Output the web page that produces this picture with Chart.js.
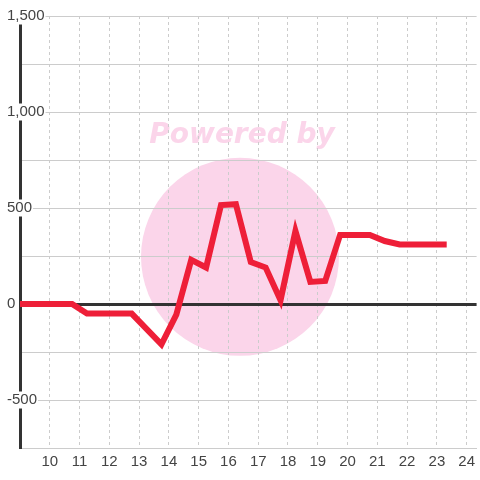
<!DOCTYPE html>
<html><head><meta charset="utf-8">
<script src="https://cdn.jsdelivr.net/npm/chart.js@4/dist/chart.umd.min.js"></script>
<style>html,body{margin:0;padding:0;background:#fff}</style>
</head><body>
<canvas id="c" width="480" height="480"></canvas>
<script>
// Data
const hours  = [8.75, 10.75, 11.25, 12.75, 13.75, 14.25, 14.75, 15.25, 15.75, 16.25, 16.75, 17.25, 17.75, 18.25, 18.75, 19.25, 19.75, 20.75, 21.25, 21.75, 23.33];
const values = [0,    0,     -50,   -50,   -210,  -55,   230,   190,   515,   520,   219,   190,   20,    380,   115,   120,   360,   360,   328,   310,   310];
const xTickLabels = [10, 11, 12, 13, 14, 15, 16, 17, 18, 19, 20, 21, 22, 23, 24];
const yTickLabels = [-500, 0, 500, 1000, 1500];
const watermarkText = 'Powered by';

const watermark = {
  id: 'watermark',
  beforeDraw(chart) {
    const ctx = chart.ctx;
    ctx.save();
    ctx.fillStyle = '#ffffff';
    ctx.fillRect(0, 0, chart.width, chart.height);
    const cx = chart.width / 2, cy = chart.height * 0.535;
    ctx.fillStyle = '#fbd5ea';
    ctx.beginPath();
    ctx.arc(cx, cy, 99, 0, Math.PI * 2);
    ctx.fill();
    ctx.font = 'italic bold 28px "DejaVu Sans"';
    ctx.textAlign = 'center';
    ctx.textBaseline = 'alphabetic';
    ctx.fillText(watermarkText, cx + 2, 143);
    ctx.restore();
  }
};

new Chart(document.getElementById('c'), {
  type: 'line',
  data: {
    datasets: [{
      data: hours.map((h, i) => ({ x: h, y: values[i] })),
      borderColor: '#ee1f38',
      borderWidth: 6,
      pointRadius: 0,
      tension: 0,
      fill: false,
      borderJoinStyle: 'miter'
    }]
  },
  options: {
    responsive: false,
    animation: false,
    layout: { padding: { left: 7, top: 16, right: 0, bottom: 0 } },
    plugins: { legend: { display: false }, tooltip: { enabled: false } },
    scales: {
      x: {
        type: 'linear',
        min: 9,
        max: 9 + 460 / 30,
        ticks: {
          stepSize: 1,
          includeBounds: false,
          autoSkip: false,
          maxRotation: 0,
          color: '#444',
          padding: 5,
          font: { family: '"Liberation Sans", Arial, sans-serif', size: 15 },
          callback: v => xTickLabels.includes(v) ? String(v) : null
        },
        grid: { color: '#cccccc', lineWidth: 1, drawTicks: false },
        border: { display: true, color: '#cccccc', width: 1, dash: [3, 3] },
        afterFit: s => { s.height = 32; }
      },
      y: {
        min: -750,
        max: 1500,
        ticks: {
          stepSize: 250,
          mirror: true,
          padding: -13,
          color: '#444',
          font: { family: '"Liberation Sans", Arial, sans-serif', size: 15, lineHeight: 1 },
          showLabelBackdrop: true,
          backdropColor: '#ffffff',
          backdropPadding: 1,
          callback: v => yTickLabels.includes(v) ? v.toLocaleString('en-US') : ''
        },
        grid: {
          drawTicks: false,
          color: c => (c.tick && c.tick.value === 0) ? '#333333' : '#cccccc',
          lineWidth: c => (c.tick && c.tick.value === 0) ? 3 : 1
        },
        border: { display: true, color: '#333333', width: 3 },
        afterFit: s => { s.width = 13; }
      }
    }
  },
  plugins: [watermark]
});
</script>
</body></html>
